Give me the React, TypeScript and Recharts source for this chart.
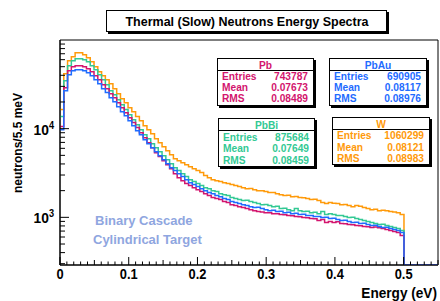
import React from 'react';
import { LineChart, Line, XAxis, YAxis, ReferenceArea } from 'recharts';

// histogram binning: 100 bins of 5.5 meV from 0 to 0.55 eV
const BIN_WIDTH = 0.0055;
const N_BINS = 100;
const X_MAX = 0.55;
const Y_MIN = 290;
const Y_MAX = 100000;

// bin contents (bins after 0.5 eV are empty)
const pbCounts = [
  10600, 29000, 45100, 50000, 51300, 51300, 50000, 47500, 43900, 39600,
  35700, 31300, 28200, 24800, 22300, 19600, 17200, 15100, 13300, 11700,
  10300, 9020, 7920, 6950, 6100, 5360, 4840, 4360, 3930, 3540,
  3110, 2800, 2590, 2400, 2280, 2160, 2050, 1950, 1850, 1760,
  1670, 1630, 1590, 1510, 1470, 1390, 1360, 1320, 1290, 1260,
  1220, 1190, 1160, 1150, 1130, 1125, 1100, 1095, 1075, 1070,
  1047, 1040, 1020, 1015, 994, 990, 969, 965, 920, 944,
  873, 896, 873, 890, 851, 848, 829, 825, 808, 804,
  787, 782, 767, 780, 765, 748, 729, 710, 692, 674,
  623,
];

const pbAuCounts = [
  9740, 26800, 40600, 45100, 46300, 46300, 45100, 42800, 39600, 35700,
  32100, 28200, 25500, 22300, 20100, 17700, 15500, 14000, 12300, 10800,
  9500, 8560, 7510, 6770, 6100, 5500, 4960, 4470, 4030, 3630,
  3370, 3110, 2880, 2660, 2460, 2340, 2220, 2100, 2000, 1900,
  1850, 1760, 1710, 1630, 1590, 1510, 1470, 1430, 1390, 1360,
  1320, 1290, 1300, 1260, 1220, 1190, 1200, 1160, 1170, 1130,
  1140, 1100, 1110, 1075, 1080, 1047, 1050, 1020, 1025, 994,
  1000, 969, 975, 944, 920, 925, 896, 873, 878, 851,
  855, 829, 808, 812, 787, 767, 772, 748, 729, 710,
  674,
];

const pbBiCounts = [
  13700, 34800, 51300, 58400, 61600, 61600, 60000, 56900, 51300, 46300,
  40600, 35700, 31300, 26800, 24200, 21200, 18600, 16400, 14400, 12600,
  11100, 9740, 8560, 7710, 6770, 6100, 5500, 4960, 4470, 4030,
  3630, 3370, 3110, 2880, 2660, 2530, 2400, 2280, 2160, 2100,
  2000, 1950, 1850, 1800, 1760, 1670, 1630, 1590, 1550, 1560,
  1510, 1470, 1430, 1390, 1400, 1360, 1320, 1330, 1260, 1270,
  1220, 1190, 1260, 1190, 1160, 1170, 1130, 1140, 1100, 1160,
  1075, 1100, 1075, 1047, 1050, 1020, 994, 1000, 969, 944,
  920, 896, 873, 851, 829, 835, 808, 787, 767, 748,
  710,
];

const wCounts = [
  16400, 41700, 58400, 64800, 71900, 71900, 68300, 63200, 56900, 50000,
  43900, 39600, 35700, 32100, 28200, 24800, 21800, 19600, 17200, 15500,
  13700, 12300, 10800, 9740, 8780, 7710, 6950, 6260, 5650, 5090,
  4590, 4360, 4140, 3930, 3730, 3540, 3370, 3200, 2960, 2800,
  2660, 2590, 2530, 2460, 2400, 2340, 2280, 2220, 2160, 2100,
  2110, 2050, 2000, 1990, 1950, 1900, 1910, 1850, 1800, 1760,
  1770, 1710, 1720, 1670, 1660, 1630, 1590, 1600, 1550, 1470,
  1430, 1470, 1440, 1430, 1390, 1400, 1360, 1320, 1360, 1330,
  1290, 1260, 1220, 1230, 1190, 1200, 1190, 1160, 1150, 1130,
  1075,
];

// stat box contents
const names = ['Pb', 'PbAu', 'PbBi', 'W'];
const entries = ['743787', '690905', '875684', '1060299'];
const means = ['0.07673', '0.08117', '0.07649', '0.08121'];
const rmsValues = ['0.08489', '0.08976', '0.08459', '0.08983'];

const colors = ['#d3156e', '#1f6cff', '#33c994', '#ff9a0a'];
const countsByTarget = [pbCounts, pbAuCounts, pbBiCounts, wCounts];

const FONT = '"Liberation Sans", Arial, Helvetica, sans-serif';

const rows = Array.from({ length: N_BINS + 1 }, (_, i) => {
  const row: Record<string, number> = { e: i * BIN_WIDTH };
  names.forEach((n, k) => {
    const c = countsByTarget[k][Math.min(i, N_BINS - 1)] ?? 0;
    // empty bins sit on the frame minimum, like ROOT does on a log axis
    row[n] = c > 0 ? c : Y_MIN;
  });
  return row;
});

const xTicks: number[] = [];
for (let k = 0; k <= 55; k++) xTicks.push(k / 100);

const yTicks: number[] = [];
for (const d of [100, 1000, 10000]) {
  for (let m = 1; m <= 9; m++) {
    const v = m * d;
    if (v >= Y_MIN && v < Y_MAX) yTicks.push(v);
  }
}

const XTick = (props: any) => {
  const { x, y, payload } = props;
  const k = Math.round(payload.value * 100);
  const major = k % 10 === 0;
  const len = major ? 8 : k % 5 === 0 ? 5 : 3.5;
  return (
    <g>
      <line x1={x} x2={x} y1={y} y2={y - len} stroke="#000" strokeWidth={1} />
      {major && (
        <text
          transform={`translate(${x},${y + 14}) scale(0.92,1)`}
          textAnchor="middle"
          fontFamily={FONT}
          fontWeight="bold"
          fontSize={14}
          fill="#000"
        >
          {String(k / 100)}
        </text>
      )}
    </g>
  );
};

const YTick = (props: any) => {
  const { x, y, payload } = props;
  const v = payload.value;
  const exp = Math.log10(v);
  const major = Math.abs(exp - Math.round(exp)) < 1e-9;
  return (
    <g>
      <line x1={x} x2={x + (major ? 9 : 5)} y1={y} y2={y} stroke="#000" strokeWidth={1} />
      {major && (
        <text
          transform={`translate(${x - 6},${y + 6}) scale(0.92,1)`}
          textAnchor="end"
          fontFamily={FONT}
          fontWeight="bold"
          fontSize={15}
          fill="#000"
        >
          10
          <tspan dy={-6} fontSize={10}>
            {Math.round(exp)}
          </tspan>
        </text>
      )}
    </g>
  );
};

// box geometry: position, size and baseline of each row
const boxPos = [
  { x: 217, y: 58, w: 97, h: 48, rows: [21.5, 33, 44] },
  { x: 329, y: 58, w: 98, h: 48, rows: [21.5, 33, 44] },
  { x: 218, y: 118, w: 97, h: 49, rows: [22.5, 34, 45.5] },
  { x: 332, y: 117, w: 98, h: 48, rows: [21.5, 33.5, 44.5] },
];

const StatBox = ({ i }: { i: number }) => {
  const { x, y, w, h, rows: rowY } = boxPos[i];
  const c = colors[i];
  const labels = ['Entries', 'Mean', 'RMS'];
  const vals = [entries[i], means[i], rmsValues[i]];
  return (
    <g fontFamily={FONT} fontWeight="bold" fontSize={10.2} fill={c}>
      <rect x={x + 2} y={y + 2} width={w} height={h} fill="#000" />
      <rect x={x + 0.5} y={y + 0.5} width={w - 1} height={h - 1} fill="#fff" stroke="#000" />
      <line x1={x} x2={x + w} y1={y + 12.5} y2={y + 12.5} stroke="#000" />
      <text x={x + w / 2} y={y + 10.5} textAnchor="middle">
        {names[i]}
      </text>
      {labels.map((l, r) => (
        <g key={l}>
          <text x={x + 5} y={y + rowY[r]}>
            {l}
          </text>
          <text x={x + w - 6} y={y + rowY[r]} textAnchor="end">
            {vals[r]}
          </text>
        </g>
      ))}
    </g>
  );
};

export default function App() {
  return (
    <div style={{ position: 'absolute', left: 0, top: 0, width: 440, height: 301, background: '#fff' }}>
      <LineChart width={440} height={301} data={rows} margin={{ top: 40, right: 2, bottom: 0, left: 0 }}>
        <XAxis
          dataKey="e"
          type="number"
          domain={[0, X_MAX]}
          ticks={xTicks}
          interval={0}
          tick={<XTick />}
          tickLine={false}
          tickSize={0}
          tickMargin={0}
          axisLine={{ stroke: '#000' }}
          height={36}
          allowDataOverflow
        />
        <YAxis
          type="number"
          scale="log"
          domain={[Y_MIN, Y_MAX]}
          ticks={yTicks}
          interval={0}
          tick={<YTick />}
          tickLine={false}
          tickSize={0}
          tickMargin={0}
          axisLine={{ stroke: '#000' }}
          width={60}
          allowDataOverflow
        />
        {[3, 2, 0, 1].map((k) => (
          <Line
            key={names[k]}
            dataKey={names[k]}
            type="stepAfter"
            stroke={colors[k]}
            strokeWidth={1.5}
            dot={false}
            isAnimationActive={false}
          />
        ))}
        <ReferenceArea x1={0} x2={X_MAX} y1={Y_MIN} y2={Y_MAX} fill="none" stroke="#000" strokeWidth={1} fillOpacity={0} />
      </LineChart>
      <svg width={440} height={301} style={{ position: 'absolute', left: 0, top: 0, pointerEvents: 'none' }}>
        <rect x={108} y={12} width={281} height={22} fill="#000" />
        <rect x={106.5} y={10.5} width={280} height={21} fill="#fff" stroke="#000" />
        <text x={247} y={25.5} textAnchor="middle" fontFamily={FONT} fontWeight="bold" fontSize={12.5} fill="#000">
          Thermal (Slow) Neutrons Energy Spectra
        </text>
        {names.map((_, i) => (
          <StatBox key={i} i={i} />
        ))}
        <text x={95} y={224.5} fontFamily={FONT} fontWeight="bold" fontSize={13} fill="#8fa6e0">
          Binary Cascade
        </text>
        <text x={93} y={243.5} fontFamily={FONT} fontWeight="bold" fontSize={13} fill="#8fa6e0">
          Cylindrical Target
        </text>
        <text
          transform="translate(437,298) scale(0.94,1)"
          textAnchor="end"
          fontFamily={FONT}
          fontWeight="bold"
          fontSize={14.5}
          fill="#000"
        >
          Energy (eV)
        </text>
        <text
          transform="translate(22,143) rotate(-90)"
          textAnchor="middle"
          fontFamily={FONT}
          fontWeight="bold"
          fontSize={12}
          fill="#000"
        >
          neutrons/5.5 meV
        </text>
      </svg>
    </div>
  );
}
